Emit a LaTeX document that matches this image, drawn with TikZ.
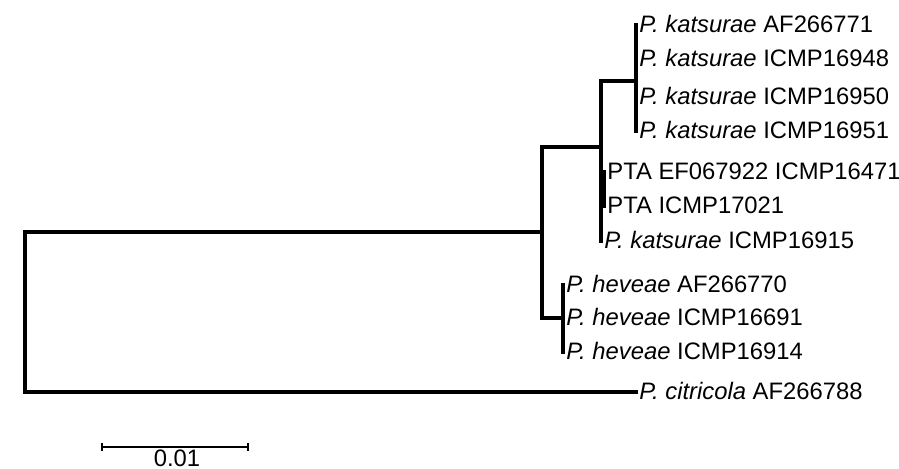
\documentclass[tikz,border=0pt]{standalone}
\usepackage{fontspec}
\setmainfont{Liberation Sans}
\usepackage{tikz}
\usetikzlibrary{positioning}

\begin{document}
\begin{tikzpicture}[
  x=0.5pt, y=-0.5pt,
  font=\fontsize{11.9}{13}\selectfont,
  taxon/.style={anchor=west, inner sep=1.5pt, text height=0.72em, text depth=0pt},
  branch/.style={draw=black, line width=1.7pt, line cap=rect},
  scalebar/.style={draw=black, line width=1pt}
]
  \useasboundingbox (0,0) rectangle (899,469);
  % internal nodes
  \coordinate (n0) at (25,232);
  \coordinate (n1) at (542,232);
  \coordinate (n2) at (601,147);
  \coordinate (n3) at (636,81);
  \coordinate (n4) at (604,189);
  \coordinate (n5) at (563,318);
  % taxa
  \node[taxon] (ka) at (636,25) {\textit{P. katsurae} AF266771};
  \node[taxon] (kb) at (636,59) {\textit{P. katsurae} ICMP16948};
  \node[taxon] (kc) at (636,97) {\textit{P. katsurae} ICMP16950};
  \node[taxon] (kd) at (636,131) {\textit{P. katsurae} ICMP16951};
  \node[taxon] (pa) at (604,172) {PTA EF067922 ICMP16471};
  \node[taxon] (pb) at (604,206) {PTA ICMP17021};
  \node[taxon] (ke) at (601,241) {\textit{P. katsurae} ICMP16915};
  \node[taxon] (ha) at (563,285) {\textit{P. heveae} AF266770};
  \node[taxon] (hb) at (563,318) {\textit{P. heveae} ICMP16691};
  \node[taxon] (hc) at (563,352) {\textit{P. heveae} ICMP16914};
  \node[taxon] (ci) at (636,392) {\textit{P. citricola} AF266788};
  % branches
  \draw[branch] (n1) -- (n0) |- (ci.west);
  \draw[branch] (n2) -| (n1) |- (n5);
  \draw[branch] (n3) -| (n2) -- (ke.west);
  \draw[branch] (n2 |- n4) -- (n4);
  \draw[branch] (ka.west) -- (kd.west);
  \draw[branch] (pa.west) -- (pb.west);
  \draw[branch] (ha.west) -- (hc.west);
  % scale
  \coordinate (sbl) at (102,447);
  \coordinate (sbr) at (248,447);
  \draw[scalebar] (sbl) -- (sbr);
  \draw[scalebar] ([yshift=2pt]sbl) -- ([yshift=-2pt]sbl);
  \draw[scalebar] ([yshift=2pt]sbr) -- ([yshift=-2pt]sbr);
  \node (sblabel) at (177,458) {0.01};
\end{tikzpicture}
\end{document}
